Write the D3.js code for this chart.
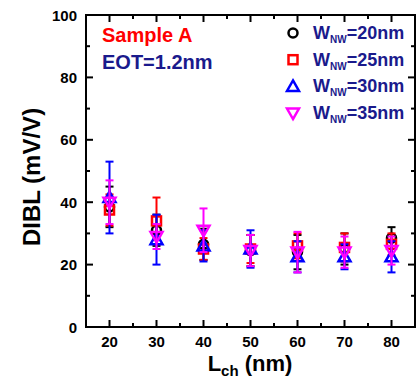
<!DOCTYPE html>
<html><head><meta charset="utf-8">
<script src="https://cdn.jsdelivr.net/npm/d3@7"></script>
<style>body{margin:0;background:#fff}svg{display:block}text{font-family:"Liberation Sans",Arial,sans-serif;font-weight:bold}</style>
</head><body>
<svg id="c" width="417" height="382"></svg>
<script>
const lengths = [20, 30, 40, 50, 60, 70, 80];
const w20Mean = [38.5, 31, 26.5, 24.5, 24, 25, 28.5];
const w20Err  = [6.5, 5, 5, 5, 5.5, 5, 3.5];
const w25Mean = [37.5, 34, 25, 25, 26, 25.5, 26.5];
const w25Err  = [5, 7.5, 3.5, 4.5, 4, 4.5, 3.5];
const w30Mean = [41.5, 28, 26, 25, 22.5, 22.5, 22.5];
const w30Err  = [11.5, 8, 5, 6, 5, 4, 5];
const w35Mean = [40, 29, 31, 24.5, 24, 24, 24.5];
const w35Err  = [7, 4, 7, 5, 6.5, 5, 4.5];
const seriesNames = ["20nm", "25nm", "30nm", "35nm"];
const xTicks = [20, 30, 40, 50, 60, 70, 80];
const yTicks = [0, 20, 40, 60, 80, 100];

const series = [
  {name: seriesNames[0], mean: w20Mean, err: w20Err, color: "#000000", shape: "circle"},
  {name: seriesNames[1], mean: w25Mean, err: w25Err, color: "#ff0000", shape: "square"},
  {name: seriesNames[2], mean: w30Mean, err: w30Err, color: "#0000ff", shape: "triangle"},
  {name: seriesNames[3], mean: w35Mean, err: w35Err, color: "#ff00ff", shape: "invtriangle"}
];

const svg = d3.select("#c");
const L = 86, R = 415, T = 15, B = 327;
const x = d3.scaleLinear().domain([15, 85]).range([L, R]);
const y = d3.scaleLinear().domain([0, 100]).range([B, T]);

svg.append("rect").attr("x", L).attr("y", T).attr("width", R - L).attr("height", B - T)
  .attr("fill", "none").attr("stroke", "#000").attr("stroke-width", 2);

const minorX = d3.range(15, 86, 5).filter(v => v % 10 !== 0);
const minorY = d3.range(10, 100, 20);
const g = svg.append("g").attr("stroke", "#000").attr("stroke-width", 2);
xTicks.forEach(v => {
  g.append("line").attr("x1", x(v)).attr("x2", x(v)).attr("y1", B).attr("y2", B - 7);
  g.append("line").attr("x1", x(v)).attr("x2", x(v)).attr("y1", T).attr("y2", T + 7);
});
minorX.forEach(v => {
  g.append("line").attr("x1", x(v)).attr("x2", x(v)).attr("y1", B).attr("y2", B - 4);
  g.append("line").attr("x1", x(v)).attr("x2", x(v)).attr("y1", T).attr("y2", T + 4);
});
yTicks.forEach(v => {
  g.append("line").attr("x1", L).attr("x2", L + 7).attr("y1", y(v)).attr("y2", y(v));
  g.append("line").attr("x1", R).attr("x2", R - 7).attr("y1", y(v)).attr("y2", y(v));
});
minorY.forEach(v => {
  g.append("line").attr("x1", L).attr("x2", L + 4).attr("y1", y(v)).attr("y2", y(v));
  g.append("line").attr("x1", R).attr("x2", R - 4).attr("y1", y(v)).attr("y2", y(v));
});

svg.selectAll(".xt").data(xTicks).join("text")
  .attr("x", d => x(d)).attr("y", 347).attr("text-anchor", "middle")
  .attr("font-size", 15).text(d => d);
svg.selectAll(".yt").data(yTicks).join("text")
  .attr("x", 77).attr("y", d => y(d) + 5.5).attr("text-anchor", "end")
  .attr("font-size", 15).text(d => d);

svg.append("text").attr("transform", "translate(40,177) rotate(-90)")
  .attr("text-anchor", "middle").attr("font-size", 24).text("DIBL (mV/V)");
const xl = svg.append("text").attr("x", 250).attr("y", 371).attr("text-anchor", "middle").attr("font-size", 22);
xl.append("tspan").text("L");
xl.append("tspan").attr("font-size", 15).attr("dy", 5).text("ch");
xl.append("tspan").attr("dy", -5).text(" (nm)");

svg.append("text").attr("x", 102).attr("y", 42).attr("fill", "#ff0000").attr("font-size", 20).text("Sample A");
svg.append("text").attr("x", 102).attr("y", 69).attr("fill", "#1a1a8c").attr("font-size", 20).text("EOT=1.2nm");

function marker(sel, shape, cx, cy, color) {
  const s = 5;
  if (shape === "circle") {
    sel.append("circle").attr("cx", cx).attr("cy", cy).attr("r", s - 0.5)
      .attr("fill", "none").attr("stroke", color).attr("stroke-width", 2.5);
  } else if (shape === "square") {
    sel.append("rect").attr("x", cx - s + 0.5).attr("y", cy - s + 0.5).attr("width", 2 * s - 1).attr("height", 2 * s - 1)
      .attr("fill", "none").attr("stroke", color).attr("stroke-width", 2.5);
  } else if (shape === "triangle") {
    sel.append("path").attr("d", `M${cx},${cy - 6}L${cx + 6},${cy + 4.5}L${cx - 6},${cy + 4.5}Z`)
      .attr("fill", "none").attr("stroke", color).attr("stroke-width", 2.5);
  } else {
    sel.append("path").attr("d", `M${cx},${cy + 6}L${cx + 6},${cy - 4.5}L${cx - 6},${cy - 4.5}Z`)
      .attr("fill", "none").attr("stroke", color).attr("stroke-width", 2.5);
  }
}

series.forEach(s => {
  const sg = svg.append("g");
  lengths.forEach((l, i) => {
    const cx = x(l), m = s.mean[i], e = s.err[i];
    sg.append("line").attr("x1", cx).attr("x2", cx).attr("y1", y(m + e)).attr("y2", y(m - e))
      .attr("stroke", s.color).attr("stroke-width", 2);
    [m + e, m - e].forEach(v => sg.append("line").attr("x1", cx - 4).attr("x2", cx + 4)
      .attr("y1", y(v)).attr("y2", y(v)).attr("stroke", s.color).attr("stroke-width", 2));
    marker(sg, s.shape, cx, y(m), s.color);
  });
});

series.forEach((s, i) => {
  const ly = 33 + i * 26.7;
  marker(svg, s.shape, 293, ly, s.color);
  const t = svg.append("text").attr("x", 313).attr("y", ly + 6).attr("fill", "#1a1a8c").attr("font-size", 18);
  t.append("tspan").text("W");
  t.append("tspan").attr("font-size", 10).attr("dy", 4).text("NW");
  t.append("tspan").attr("dy", -4).text("=" + s.name);
});
</script>
</body></html>
